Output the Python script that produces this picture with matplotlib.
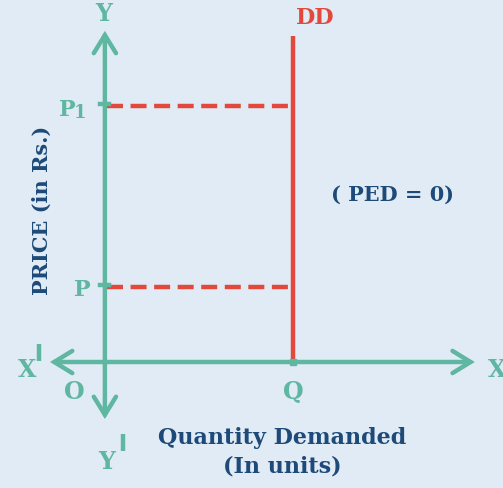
import matplotlib.pyplot as plt

# chart values (arbitrary units, origin at O)
quantity_q = 5.0
price_levels = [2.0, 6.83]          # P, P1
price_labels = ["P", "P"]
price_subs = ["", "1"]
demand_top = 8.7                    # top of the DD line
x_range = [-1.46, 9.84]             # X' .. X arrow tips
y_range = [-1.52, 8.83]             # Y' .. Y arrow tips

TEAL = "#5fb7a1"
RED = "#e2483b"
NAVY = "#1d4a78"
BG = "#e1ebf5"
FONT = "DejaVu Serif"

fig = plt.figure(figsize=(5.03, 4.89), dpi=100)
fig.patch.set_facecolor(BG)
ax = fig.add_axes([0, 0, 1, 1])
ax.set_facecolor(BG)
ax.set_xlim(-2.79, 10.59)
ax.set_ylim(-3.36, 9.68)
ax.axis("off")

chev = dict(arrowstyle="<->,head_length=1.3,head_width=0.8", lw=3.2, color=TEAL,
            shrinkA=0, shrinkB=0, capstyle="round", joinstyle="miter")

# axes with open arrowheads
ax.annotate("", xy=(x_range[1], 0), xytext=(x_range[0], 0), arrowprops=chev)
ax.annotate("", xy=(0, y_range[1]), xytext=(0, y_range[0]), arrowprops=chev)

# perfectly inelastic demand curve
ax.plot([quantity_q, quantity_q], [0, demand_top], color=RED, lw=3.2, solid_capstyle="butt", zorder=3)

# dashed price guides
for p in price_levels:
    ax.plot([0.05, quantity_q], [p, p], color=RED, lw=3.2, dashes=(3.6, 1.7), zorder=3)
    ax.plot([-0.14, 0.12], [p + 0.05, p + 0.05], color=TEAL, lw=3.2, zorder=4)

ax.plot([quantity_q], [0], marker="s", ms=5, color=TEAL, zorder=4)

lab = dict(color=TEAL, fontfamily=FONT, fontweight="bold", ha="center", va="center")
ax.text(-0.03, 9.31, "Y", fontsize=17, **lab)
ax.text(0.05, -2.64, "Y", fontsize=17, **lab)
ax.text(-2.07, -0.19, "X", fontsize=17, **lab)
ax.text(10.19, -0.19, "X", fontsize=17, color=TEAL, fontfamily=FONT, fontweight="bold",
        ha="left", va="center")
# prime bars on X' and Y'
ax.plot([-1.76, -1.76], [0.03, 0.48], color=TEAL, lw=3.2, solid_capstyle="butt")
ax.plot([0.48, 0.48], [-1.92, -2.37], color=TEAL, lw=3.2, solid_capstyle="butt")

ax.text(-0.8, -0.77, "O", fontsize=17, **lab)
ax.text(quantity_q, -0.77, "Q", fontsize=17, **lab)
ax.text(-1.0, price_levels[1] - 0.07, price_labels[1], fontsize=16, **lab)
ax.text(-0.65, price_levels[1] - 0.17, price_subs[1], fontsize=13, **lab)
ax.text(-0.59, price_levels[0] - 0.05, price_labels[0], fontsize=16, **lab)

ax.text(5.59, 9.2, "DD", fontsize=16, color=RED, fontfamily=FONT, fontweight="bold",
        ha="center", va="center")

nav = dict(color=NAVY, fontfamily=FONT, fontweight="bold", ha="center", va="center")
ax.text(7.66, 4.48, "( PED = 0)", fontsize=15, **nav)
ax.text(-1.68, 4.08, "PRICE (in Rs.)", fontsize=15, rotation=90, **nav)
ax.text(4.71, -2.0, "Quantity Demanded", fontsize=16, **nav)
ax.text(4.71, -2.77, "(In units)", fontsize=16, **nav)

fig.savefig("out.png", dpi=100, facecolor=BG)
